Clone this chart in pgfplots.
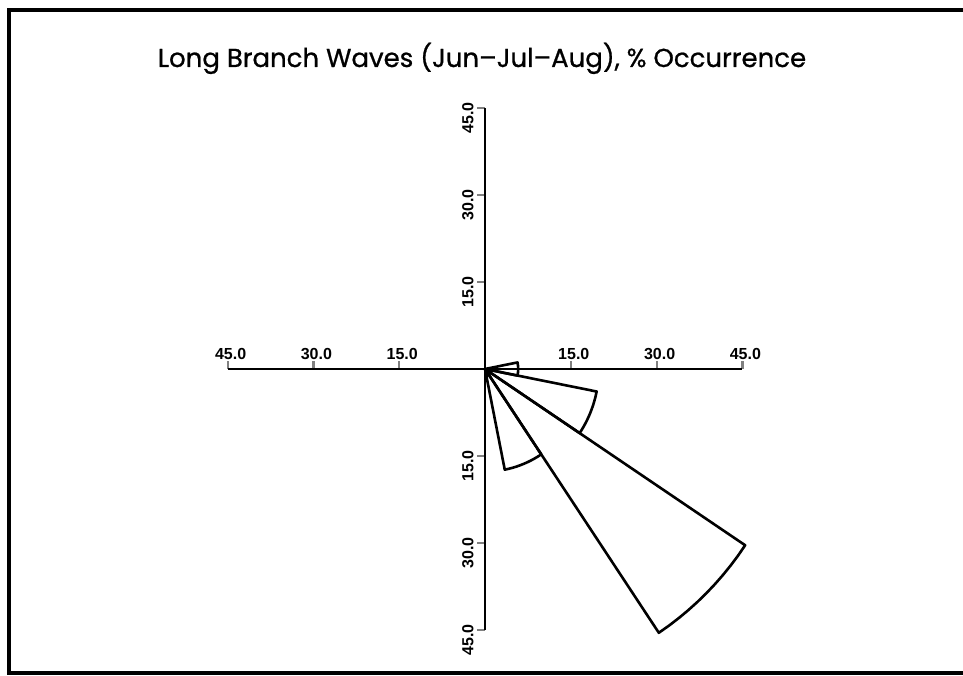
\documentclass[border=0pt]{standalone}
\usepackage{fontspec}
\setmainfont{Poppins}
\newfontfamily\titlefont{Poppins}[FakeBold=0.8]
\newfontfamily\tickfont{Liberation Sans}
\usepackage{pgfplots}
\pgfplotsset{compat=1.18}

% percent occurrence by direction sector (angle in degrees from east, radius in %)
% E 5.8, ESE 19.9, SE 54.7, SSE 17.7

\begin{document}
\begin{tikzpicture}
\path[use as bounding box] (0pt,0pt) rectangle (963pt,675pt);
% frame
\draw[line width=3.5pt] (963pt,665pt) -- (9pt,665pt) -- (9pt,2pt) -- (963pt,2pt);
\node[anchor=base, font=\titlefont\fontsize{26}{28}\selectfont, inner sep=0pt] at (482pt,608pt)
  {Long Branch Waves (Jun\textendash Jul\textendash Aug), \% Occurrence};
\begin{axis}[
  anchor=center, at={(485pt,306pt)},
  x=5.72pt, y=5.8pt,
  xmin=-45, xmax=45, ymin=-45, ymax=45,
  enlargelimits=false,
  clip=false,
  axis lines=middle,
  axis line style={-, line width=2.6pt},
  xtick={-45,-30,-15,15,30,45},
  xticklabels={45.0,30.0,15.0,15.0,30.0,45.0},
  ytick={-45,-30,-15,15,30,45},
  yticklabels={45.0,30.0,15.0,15.0,30.0,45.0},
  major tick length=8pt,
  tick align=center,
  xtick style={line width=2.2pt, yshift=4pt},
  ytick style={line width=2.2pt, xshift=-4pt},
  ticklabel style={font=\tickfont\bfseries\fontsize{16}{16}\selectfont},
  xticklabel style={anchor=south, yshift=10pt, xshift=3pt},
  yticklabel style={rotate=90, anchor=south, xshift=-10pt, yshift=4pt},
]
\addplot[black, line width=2.6pt, line join=round, data cs=polar] coordinates {
  (0,0) (-11.25,5.8) (-5.6,5.8) (0,5.8) (5.6,5.8) (11.25,5.8) (0,0)};
\addplot[black, line width=2.6pt, line join=round, data cs=polar] coordinates {
  (0,0) (-11.25,19.9) (-13.5,19.9) (-15.75,19.9) (-18,19.9) (-20.25,19.9)
  (-22.5,19.9) (-24.75,19.9) (-27,19.9) (-29.25,19.9) (-31.5,19.9) (-33.75,19.9) (0,0)};
\addplot[black, line width=2.6pt, line join=round, data cs=polar] coordinates {
  (0,0) (-33.75,54.7) (-36,54.7) (-38.25,54.7) (-40.5,54.7) (-42.75,54.7)
  (-45,54.7) (-47.25,54.7) (-49.5,54.7) (-51.75,54.7) (-54,54.7) (-56.25,54.7) (0,0)};
\addplot[black, line width=2.6pt, line join=round, data cs=polar] coordinates {
  (0,0) (-56.25,17.7) (-58.5,17.7) (-60.75,17.7) (-63,17.7) (-65.25,17.7)
  (-67.5,17.7) (-69.75,17.7) (-72,17.7) (-74.25,17.7) (-76.5,17.7) (-78.75,17.7) (0,0)};
\end{axis}
\end{tikzpicture}
\end{document}
